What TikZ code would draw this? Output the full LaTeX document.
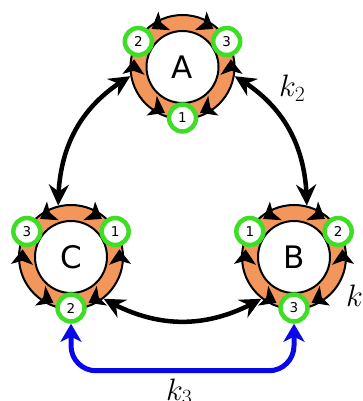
\RequirePackage{fix-cm}
\documentclass[tikz,border=0pt]{standalone}
\usepackage{fontspec}
\setsansfont{DejaVu Sans}
\usetikzlibrary{arrows.meta,bending,calc}
\definecolor{ringorange}{RGB}{242,150,92}
\definecolor{portgreen}{RGB}{62,222,36}
\definecolor{linkblue}{RGB}{8,8,235}
\newcommand\makering[5]{%
  \node[ring] (#1) at #2 {};
  \draw[ringtip] ($(#1)+(129:49)$) arc[start angle=129,end angle=51,radius=49];
  \draw[ringtip] ($(#1)+(171:49)$) arc[start angle=171,end angle=249,radius=49];
  \draw[ringtip] ($(#1)+(-69:49)$) arc[start angle=-69,end angle=9,radius=49];
  \node[core] (#1c) at (#1) {#1};
  \node[port] (#1#3) at ($(#1)+(150:51)$) {#3};
  \node[port] (#1#4) at ($(#1)+(30:51)$) {#4};
  \node[port] (#1#5) at ($(#1)+(270:51)$) {#5};
}
\begin{document}
\begin{tikzpicture}[x=1pt,y=1pt,
  ring/.style={circle, draw=black, line width=2pt, fill=ringorange, minimum size=104pt, inner sep=0pt},
  core/.style={circle, draw=black, line width=2pt, fill=white, minimum size=72pt, inner sep=0pt, font=\sffamily\fontsize{31}{31}\selectfont},
  port/.style={circle, draw=portgreen, line width=4.5pt, fill=white, minimum size=27pt, inner sep=0pt, font=\sffamily\fontsize{13.5}{13.5}\selectfont},
  ringtip/.style={draw=ringorange, line width=1pt, {Stealth[length=15pt,width=22pt,inset=3.5pt,color=black]}-{Stealth[length=15pt,width=22pt,inset=3.5pt,color=black]}},
  link/.style={draw=black, line width=4.5pt, {Stealth[length=21pt,width=20pt,inset=7pt]}-{Stealth[length=21pt,width=20pt,inset=7pt]}},
  bluelink/.style={draw=linkblue, line width=5pt, rounded corners=25pt, {Stealth[length=18pt,width=21pt,inset=5pt]}-{Stealth[length=18pt,width=21pt,inset=5pt]}},
  klabel/.style={font=\fontsize{31}{31}\selectfont, inner sep=0pt, anchor=base west}
]
\useasboundingbox (0,0) rectangle (363,401);
\makering{A}{(182.5,334)}{2}{3}{1}
\makering{C}{(71,144)}{3}{1}{2}
\makering{B}{(294,144)}{1}{2}{3}
\draw[link] (A.190) to[out=210,in=90] (C.104);
\draw[link] (A.-10) to[out=-30,in=90] (B.76);
\draw[link] (C.-52) to[out=-30,in=210] (B.232);
\draw[bluelink] (C2.south) -- ++(0,-47) -| (B3.south);
\node[klabel] (k2) at (279,304) {$k_2$};
\node[klabel] (k1) at (346,94) {$k_1$};
\node[klabel] (k3) at (166,1) {$k_3$};
\end{tikzpicture}
\end{document}
